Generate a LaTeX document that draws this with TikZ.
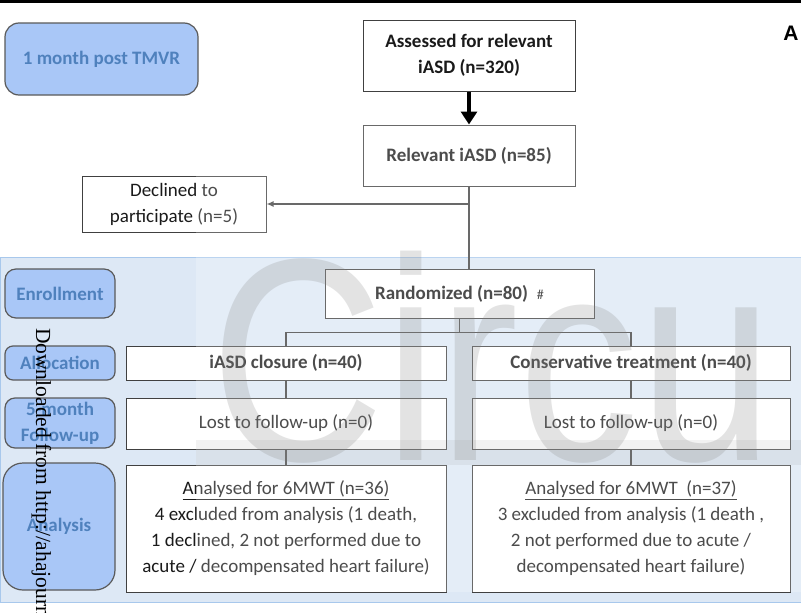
\documentclass[tikz,border=0pt]{standalone}
\usepackage{fontspec}
\setmainfont{Carlito}
\newfontfamily\wmfont{Liberation Sans}
\newfontfamily\dlfont{Liberation Serif}
\usetikzlibrary{arrows.meta}

\definecolor{labelfill}{RGB}{169,199,247}
\definecolor{labeltext}{RGB}{79,129,189}
\definecolor{labelline}{RGB}{90,90,90}
\definecolor{boxline}{RGB}{64,64,64}
\definecolor{panelfill}{RGB}{221,232,245}
\definecolor{panelline}{RGB}{168,200,236}
\definecolor{txt}{RGB}{26,26,26}

\begin{document}
\begin{tikzpicture}[x=1pt,y=-1pt,
  stage/.style={draw=labelline, line width=1.2pt, fill=labelfill, text=labeltext,
    font=\bfseries\fontsize{19}{26}\selectfont, align=center, inner sep=0pt},
  box/.style={draw=boxline, line width=1pt, fill=white, text=txt,
    font=\fontsize{19}{26}\selectfont, align=center, inner sep=0pt},
  boldbox/.style={box, font=\bfseries\fontsize{19}{26}\selectfont},
  link/.style={draw=boxline, line width=1.3pt},
]
\useasboundingbox (0,0) rectangle (801,613);
\fill[white] (0,0) rectangle (801,613);

% top rule and study phase panel
\draw[line width=2.5pt] (0,1.5) -- (801,1.5);
\draw[fill=panelfill, draw=panelline, line width=1pt] (0.5,257) rectangle (801,602);

% phase labels
\node[stage, rounded corners=14pt, minimum width=193pt, minimum height=72pt] (tmvr) at (101.5,59) {1 month post TMVR};
\node[stage, rounded corners=11pt, minimum width=110pt, minimum height=49pt] (enroll) at (60,293.5) {Enrollment};
\node[stage, rounded corners=8pt, minimum width=110pt, minimum height=34pt] (alloc) at (60,363) {Allocation};
\node[stage, rounded corners=10pt, minimum width=110pt, minimum height=50pt] (fu) at (60,423) {5-month\\Follow-up};
\node[stage, rounded corners=20pt, minimum width=112pt, minimum height=127pt] (anal) at (59,526.5) {Analysis};

% flow boxes
\node[boldbox, minimum width=212pt, minimum height=71pt] (assess) at (469,55.5) {Assessed for relevant\\iASD (n=320)};
\node[boldbox, minimum width=212pt, minimum height=61pt] (relev) at (469,155.5) {Relevant iASD (n=85)};
\node[box, minimum width=184pt, minimum height=56pt] (decl) at (174,204) {Declined to\\participate (n=5)};
\node[boldbox, minimum width=269pt, minimum height=49pt] (rand) at (459.5,293.5) {Randomized (n=80)\hspace{9pt}{\mdseries\fontsize{14}{14}\selectfont\#}};
\node[boldbox, minimum width=320pt, minimum height=34pt] (c1) at (286,363) {iASD closure (n=40)};
\node[boldbox, minimum width=318pt, minimum height=34pt] (c2) at (631,363) {Conservative treatment (n=40)};
\node[box, minimum width=320pt, minimum height=51pt] (l1) at (286,423.5) {Lost to follow-up (n=0)};
\node[box, minimum width=318pt, minimum height=51pt] (l2) at (631,423.5) {Lost to follow-up (n=0)};
\node[box, minimum width=320pt, minimum height=127pt] (a1) at (286,528.5)
  {\underline{Analysed for 6MWT (n=36)}\\4 excluded from analysis (1 death,\\1 declined, 2 not performed due to\\acute / decompensated heart failure)};
\node[box, minimum width=318pt, minimum height=127pt] (a2) at (631,528.5)
  {\underline{Analysed for 6MWT~ (n=37)}\\3 excluded from analysis (1 death ,\\2 not performed due to acute /\\decompensated heart failure)};

% connectors
\draw[line width=4pt, -{Triangle[length=13pt,width=16pt]}] (assess.south) -- (relev.north);
\coordinate (dj) at (469,204);
\draw[link, -{Latex[length=7pt,width=6pt]}] (dj) -- (decl.east);
\draw[link] (relev.south) -- (relev.south |- rand.north);
\path (rand.south) ++(0,14) coordinate (bj);
\draw[link] (rand.south) -- (bj);
\draw[link] (c1.north) |- (bj) -| (c2.north);
\draw[link] (c1.south) -- (l1.north);
\draw[link] (c2.south) -- (l2.north);
\draw[link] (l1.south) -- (a1.north);
\draw[link] (l2.south) -- (a2.north);

% journal watermark layer
\fill[white, opacity=0.22] (196,125) rectangle (801,592);
\node[anchor=base west, inner sep=0pt, text=black!50, text opacity=0.22,
  font=\wmfont\fontsize{289}{289}\selectfont] (wm) at (210,460) {\scalebox{0.835}[1]{Circu}};
\fill[black!50, opacity=0.1] (196,440) rectangle (801,465);

\begin{scope}
\clip (0,0) rectangle (801,613);
\node[rotate=-90, anchor=base west, inner sep=0pt, text=black,
  font=\dlfont\fontsize{21.5}{21.5}\selectfont] (dl) at (36,328) {Downloaded from http://ahajourn};
\end{scope}

\node[inner sep=0pt, font=\wmfont\bfseries\fontsize{21}{21}\selectfont] (tagA) at (791,33) {A};
\end{tikzpicture}
\end{document}
